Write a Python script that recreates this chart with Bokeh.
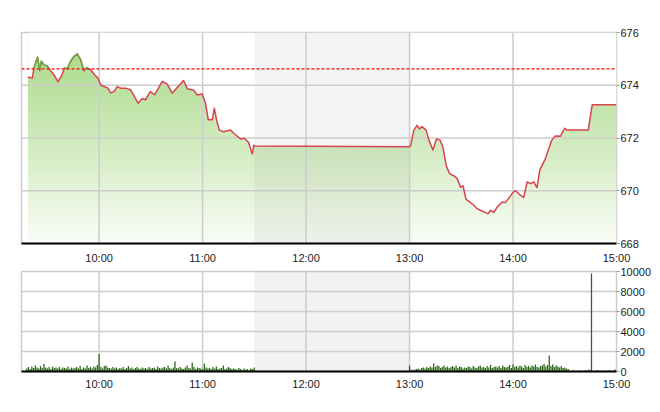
import numpy as np
import pandas as pd
from bokeh.plotting import figure
from bokeh.layouts import column
from bokeh.models import FixedTicker, DatetimeTickFormatter, Range1d, Span
from bokeh.embed import file_html
from bokeh.resources import INLINE

DAY = "2019-01-02 "

# ---------------- data ----------------
price_times = [
    "09:18:42", "09:21:18", "09:22:12", "09:24:18", "09:25:36", "09:26:30", "09:28:00", "09:30:00",
    "09:31:54", "09:33:48", "09:36:06", "09:38:06", "09:40:00", "09:41:36", "09:43:30", "09:45:24",
    "09:47:18", "09:49:18", "09:51:12", "09:52:42", "09:55:06", "09:57:24", "09:59:18", "10:00:54",
    "10:02:48", "10:05:06", "10:06:42", "10:08:36", "10:10:30", "10:12:24", "10:15:18", "10:18:12",
    "10:22:36", "10:25:00", "10:26:54", "10:29:42", "10:32:12", "10:36:36", "10:39:30", "10:42:24",
    "10:45:48", "10:49:00", "10:51:06", "10:54:54", "10:56:54", "10:59:48", "11:01:42", "11:03:18",
    "11:05:36", "11:06:48", "11:08:06", "11:09:42", "11:11:54", "11:16:12", "11:18:06", "11:22:00",
    "11:24:18", "11:26:42", "11:28:48", "11:29:42", "11:30:00",
    "13:00:00", "13:00:36", "13:02:30", "13:04:24", "13:05:48", "13:07:12", "13:09:36", "13:11:12",
    "13:13:36", "13:15:36", "13:17:42", "13:19:18", "13:21:18", "13:23:12", "13:26:06", "13:27:36",
    "13:29:36", "13:31:00", "13:32:42", "13:35:18", "13:37:18", "13:39:12", "13:41:06", "13:44:00",
    "13:45:36", "13:46:54", "13:48:54", "13:50:48", "13:53:42", "13:55:36", "13:58:00", "13:59:54",
    "14:01:24", "14:04:18", "14:06:12", "14:08:12", "14:10:06", "14:12:00", "14:13:54", "14:15:36",
    "14:18:48", "14:22:18", "14:24:36", "14:27:30", "14:30:00", "14:31:24", "14:43:36", "14:45:54",
    "15:00:00",
]
price_values = [
    674.31, 674.27, 674.66, 675.06, 674.55, 674.91, 674.78, 674.72,
    674.55, 674.40, 674.14, 674.34, 674.65, 674.63, 674.91, 675.09,
    675.19, 674.97, 674.55, 674.66, 674.59, 674.40, 674.27, 674.02,
    673.95, 673.89, 673.71, 673.76, 673.95, 673.89, 673.89, 673.83,
    673.32, 673.50, 673.45, 673.76, 673.64, 674.15, 674.04, 673.70,
    673.95, 674.18, 673.87, 673.81, 673.63, 673.67, 673.32, 672.69,
    672.69, 673.13, 672.69, 672.30, 672.24, 672.30, 672.18, 671.96,
    671.99, 671.83, 671.39, 671.73, 671.70,
    671.67, 671.70, 672.30, 672.48, 672.34, 672.43, 672.30, 671.92,
    671.54, 671.96, 671.92, 671.67, 670.95, 670.65, 670.55, 670.46,
    670.13, 670.19, 669.68, 669.55, 669.45, 669.32, 669.26, 669.17,
    669.13, 669.26, 669.18, 669.38, 669.57, 669.55, 669.76, 669.93,
    670.00, 669.83, 669.75, 670.34, 670.27, 670.34, 670.12, 670.80,
    671.22, 671.90, 672.08, 672.07, 672.37, 672.30, 672.30, 673.26,
    673.26,
]
ref_price = 674.62

lunch_start = "11:30:00"
lunch_end = "13:00:00"
x_start = "09:15:00"
x_end = "15:00:00"
hour_ticks = ["10:00:00", "11:00:00", "12:00:00", "13:00:00", "14:00:00", "15:00:00"]
price_ticks = [668, 670, 672, 674, 676]
vol_ticks = [0, 2000, 4000, 6000, 8000, 10000]

vol_am_start = "09:18:00"
vol_am = [
    300, 450, 250, 500, 350, 600, 400, 300, 550, 350,
    750, 400, 300, 450, 250, 500, 350, 400, 300, 450,
    250, 400, 350, 300, 500, 250, 400, 300, 350, 450,
    300, 550, 250, 400, 300, 600, 350, 450, 300, 500,
    400, 650, 1750, 450, 300, 550, 600, 400, 350, 300,
    450, 300, 400, 250, 350, 300, 450, 250, 350, 550,
    300, 400, 250, 350, 450, 300, 250, 400, 300, 350,
    250, 450, 300, 350, 400, 250, 500, 350, 300, 400,
    450, 300, 600, 350, 250, 400, 1000, 350, 300, 450,
    300, 250, 400, 600, 350, 300, 900, 450, 250, 400,
    350, 300, 250, 800, 400, 300, 350, 250, 450, 300,
    500, 250, 300, 350, 600, 250, 300, 450, 350, 250,
    300, 250, 200, 350, 250, 150, 300, 200, 250, 150,
    300, 250, 400,
]
vol_pm_start = "13:00:00"
vol_pm = [
    600, 200, 150, 200, 250, 300, 200, 350, 400, 300,
    450, 350, 500, 400, 800, 450, 600, 550, 350, 450,
    600, 400, 500, 350, 450, 550, 400, 600, 350, 500,
    450, 300, 400, 350, 500, 450, 300, 550, 400, 350,
    500, 600, 400, 450, 350, 550, 400, 650, 350, 450,
    500, 400, 550, 350, 600, 450, 400, 500, 650, 350,
    700, 450, 550, 400, 600, 500, 350, 650, 450, 550,
    400, 600, 500, 700, 450, 400, 550, 600, 750, 500,
    650, 1600, 550, 700, 450, 600, 500, 400, 550, 350,
    400, 300, 250,
]
vol_late_times = ["14:35:00", "14:39:00", "14:42:00", "14:44:00", "14:45:30",
                  "14:49:00", "14:52:00", "14:56:00", "14:59:00"]
vol_late = [150, 100, 150, 200, 9800, 150, 100, 150, 200]


# ---------------- helpers ----------------
def ms(times):
    idx = pd.to_datetime([DAY + t for t in times], format="%Y-%m-%d %H:%M:%S")
    return (idx.asi8 // 1_000_000).astype(float)


def ms1(t):
    return float(ms([t])[0])


MIN = 60_000.0
pt = ms(price_times)
pv = np.array(price_values, dtype=float)

vx = np.concatenate([
    ms1(vol_am_start) + MIN * np.arange(len(vol_am)),
    ms1(vol_pm_start) + MIN * np.arange(len(vol_pm)),
    ms(vol_late_times),
])
vy = np.array(vol_am + vol_pm + vol_late, dtype=float)

hours_ms = ms(hour_ticks)
x0, x1 = ms1(x_start), ms1(x_end)
ls, le = ms1(lunch_start), ms1(lunch_end)
xr = Range1d(x0, x1)

FONT = "Liberation Sans"
GRID = "#cccccc"
OUT = "#cccccc"


def style_axes(p, yticks):
    p.xgrid.grid_line_color = None
    p.ygrid.grid_line_color = None
    p.outline_line_color = OUT
    p.outline_line_width = 1.5
    p.xaxis.ticker = FixedTicker(ticks=list(hours_ms))
    p.xaxis.formatter = DatetimeTickFormatter(hours="%H:%M", hourmin="%H:%M", minutes="%H:%M",
                                              minsec="%H:%M", days="%H:%M")
    p.xaxis.major_tick_out = 0
    p.xaxis.major_tick_in = 0
    p.xaxis.minor_tick_out = 0
    p.xaxis.minor_tick_in = 0
    p.xaxis.axis_line_color = "black"
    p.xaxis.axis_line_width = 2
    p.yaxis.ticker = FixedTicker(ticks=yticks)
    p.yaxis.axis_line_color = None
    p.yaxis.major_tick_out = 3
    p.yaxis.major_tick_in = 0
    p.yaxis.major_tick_line_color = "#999999"
    p.yaxis.minor_tick_out = 0
    p.yaxis.minor_tick_in = 0
    p.yaxis.major_label_standoff = 1
    for ax in (p.xaxis, p.yaxis):
        ax.major_label_text_font = FONT
        ax.major_label_text_font_size = "11px"
        ax.major_label_text_color = "#222222"


# ---------------- price panel ----------------
p1 = figure(frame_width=595, frame_height=211, x_range=xr, y_range=Range1d(668, 676),
            x_axis_type="datetime", y_axis_location="right", output_backend="svg",
            toolbar_location=None, min_border_left=21, min_border_top=32,
            min_border_bottom=20, min_border_right=2)
style_axes(p1, price_ticks)
p1.xaxis.major_label_standoff = 8

# vertical gradient fill below the price line
n = 200
frac = np.linspace(0.0, 1.0, n)[:, None]
top_c = np.array([165, 216, 130], dtype=float)
bot_c = np.array([250, 253, 247], dtype=float)
cols = bot_c + (top_c - bot_c) * frac
img = np.zeros((n, 2), dtype=np.uint32)
view = img.view(dtype=np.uint8).reshape((n, 2, 4))
for k in range(3):
    view[:, :, k] = cols[:, k:k + 1].astype(np.uint8)
view[:, :, 3] = 255
p1.image_rgba(image=[img], x=pt[0], y=668, dw=pt[-1] - pt[0], dh=8)
p1.varea(x=pt, y1=pv, y2=np.full(len(pv), 676.0), fill_color="white")

# lunch break shading
p1.quad(left=[ls], right=[le], bottom=[668], top=[676], fill_color="black",
        fill_alpha=0.045, line_color=None)

# grid
p1.segment(x0=hours_ms[:-1], y0=668, x1=hours_ms[:-1], y1=676, line_color=GRID, line_width=1.5)
hy = [v for v in price_ticks[1:-1]]
p1.segment(x0=x0, y0=hy, x1=x1, y1=hy, line_color=GRID, line_width=1.5)

# price line: red below reference, green above
p1.line(pt, pv, line_color="#d9434f", line_width=1.5, line_join="round")
gx, gy = [], []
for i in range(len(pv) - 1):
    a, b = pv[i], pv[i + 1]
    ta, tb = pt[i], pt[i + 1]
    if a < ref_price and b < ref_price:
        continue
    if a >= ref_price and b >= ref_price:
        gx.append([ta, tb]); gy.append([a, b]); continue
    tc = ta + (ref_price - a) / (b - a) * (tb - ta)
    if a >= ref_price:
        gx.append([ta, tc]); gy.append([a, ref_price])
    else:
        gx.append([tc, tb]); gy.append([ref_price, b])
p1.multi_line(xs=gx, ys=gy, line_color="#6aae4a", line_width=1.5, line_cap="round")

p1.add_layout(Span(location=ref_price, dimension="width", line_color="#ff0000",
                   line_dash="3 2", line_width=1.2))

# ---------------- volume panel ----------------
p2 = figure(frame_width=595, frame_height=100, x_range=xr, y_range=Range1d(0, 10000),
            x_axis_type="datetime", y_axis_location="right", output_backend="svg",
            toolbar_location=None, min_border_left=21, min_border_top=5,
            min_border_bottom=20, min_border_right=2)
style_axes(p2, vol_ticks)
p2.xaxis.major_label_standoff = 6

p2.quad(left=[ls], right=[le], bottom=[0], top=[10000], fill_color="black",
        fill_alpha=0.05, line_color=None)
p2.segment(x0=hours_ms[:-1], y0=0, x1=hours_ms[:-1], y1=10000, line_color=GRID, line_width=1.5)
vgy = vol_ticks[1:-1]
p2.segment(x0=x0, y0=vgy, x1=x1, y1=vgy, line_color=GRID, line_width=1.5)
p2.vbar(x=vx, top=vy, bottom=0, width=45000, fill_color="#2b6b17", line_color=None)

layout = column(p1, p2)
open("out.html", "w").write(file_html(layout, INLINE))
